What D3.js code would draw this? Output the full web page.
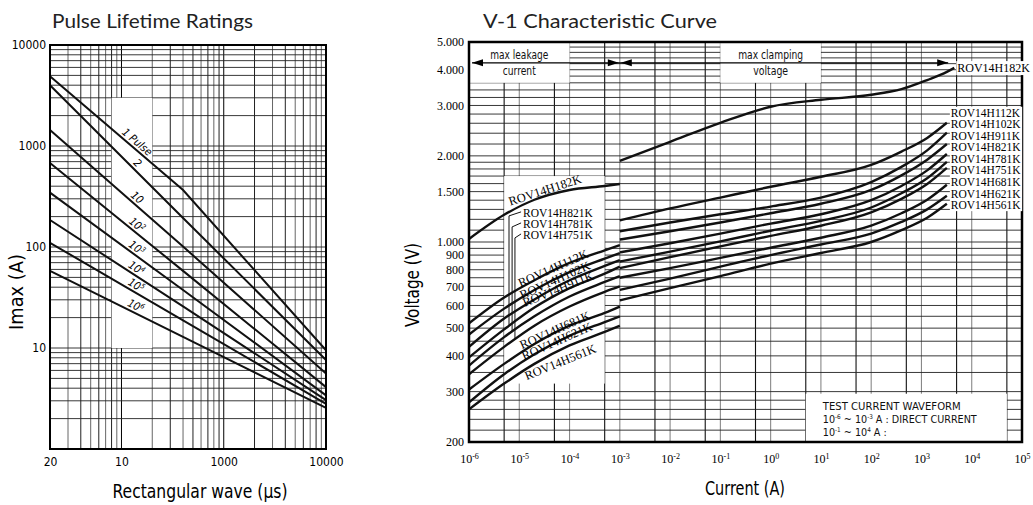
<!DOCTYPE html>
<html>
<head>
<meta charset="utf-8">
<script src="https://cdn.jsdelivr.net/npm/d3@7"></script>
<style>
  body { margin: 0; background: #fff; }
</style>
</head>
<body>
<svg id="chart" width="1033" height="505"></svg>
<script>
const NARROW = '"Liberation Sans Narrow","DejaVu Sans Condensed",Roboto,sans-serif';
const SERIF = '"Liberation Serif","DejaVu Serif",serif';
const TITLE = 'Lato,"Open Sans",sans-serif';

// ---------------- Pulse Lifetime Ratings (left) ----------------
const pulseWidths = [20, 400, 10000];          // rectangular wave, us
const pulse1   = [4900, 366, 9.5];
const pulse2   = [4000, 194, 7.6];
const pulse10  = [1440, 101, 5.6];
const pulse1e2 = [680, 58, 4.1];
const pulse1e3 = [345, 37.5, 3.4];
const pulse1e4 = [185, 25.8, 3.05];
const pulse1e5 = [110, 18.8, 2.8];
const pulse1e6 = [58, 12.9, 2.55];
const pulseLabels = [["1 Pulse", ""], ["2", ""], ["10", ""], ["10", "2"], ["10", "3"], ["10", "4"], ["10", "5"], ["10", "6"]];
const pulseTickX = [20, 100, 1000, 10000];
const pulseTickXLabels = ["20", "10", "1000", "10000"];
const pulseTickY = [10, 100, 1000, 10000];

// ---------------- V-I Characteristic Curve (right) ----------------
const currentLeak = [1e-6, 5e-6, 2e-5, 1e-4, 5e-4, 1e-3];
const currentClamp = [1e-3, 1e-2, 1e-1, 1, 10, 100, 400, 1300, 3200];
const currentClamp182 = [1e-3, 1e-2, 1e-1, 1, 10, 100, 400, 1300, 3200, 4500];
const rovNames = ["ROV14H112K", "ROV14H102K", "ROV14H911K", "ROV14H821K", "ROV14H781K",
                  "ROV14H751K", "ROV14H681K", "ROV14H621K", "ROV14H561K"];
const leak182 = [1025, 1245, 1405, 1520, 1570, 1595];
const leak112 = [520, 640, 735, 845, 935, 975];
const leak102 = [475, 585, 680, 785, 875, 915];
const leak911 = [430, 540, 630, 735, 825, 865];
const leak821 = [395, 495, 590, 690, 775, 820];
const leak781 = [370, 465, 550, 645, 725, 760];
const leak751 = [345, 430, 510, 595, 670, 700];
const leak681 = [305, 375, 440, 510, 565, 595];
const leak621 = [275, 345, 405, 470, 525, 550];
const leak561 = [260, 320, 375, 435, 485, 510];
const clamp182 = [1920, 2240, 2610, 2970, 3140, 3270, 3420, 3680, 3930, 4060];
const clamp112 = [1190, 1310, 1430, 1560, 1690, 1860, 2070, 2310, 2610];
const clamp102 = [1090, 1170, 1250, 1330, 1430, 1620, 1830, 2090, 2410];
const clamp911 = [1020, 1090, 1170, 1260, 1360, 1520, 1710, 1940, 2200];
const clamp821 = [920, 990, 1070, 1160, 1250, 1400, 1570, 1780, 2030];
const clamp781 = [855, 925, 1005, 1095, 1185, 1320, 1480, 1670, 1905];
const clamp751 = [810, 885, 965, 1050, 1140, 1270, 1415, 1595, 1815];
const clamp681 = [750, 810, 880, 955, 1035, 1140, 1260, 1405, 1585];
const clamp621 = [680, 745, 820, 900, 980, 1070, 1175, 1300, 1450];
const clamp561 = [625, 690, 760, 840, 915, 1000, 1100, 1215, 1360];
const voltTicks = [200, 300, 400, 500, 600, 700, 800, 900, 1000, 1500, 2000, 3000, 4000, 5000];
const voltTickLabels = ["200", "300", "400", "500", "600", "700", "800", "900", "1.000", "1.500", "2.000", "3.000", "4.000", "5.000"];
const currentExps = [-6, -5, -4, -3, -2, -1, 0, 1, 2, 3, 4, 5];

const leakSeries = [leak112, leak102, leak911, leak821, leak781, leak751, leak681, leak621, leak561];
const clampSeries = [clamp112, clamp102, clamp911, clamp821, clamp781, clamp751, clamp681, clamp621, clamp561];

// label anchors (current A, voltage V, rotation)
const rotLabels = [
  ["ROV14H182K", 3.25e-5, 1521, -18],
  ["ROV14H112K", 4.7e-5, 811, -24],
  ["ROV14H102K", 5.1e-5, 737, -24],
  ["ROV14H911K", 5.9e-5, 686, -22],
  ["ROV14H681K", 5.1e-5, 493, -24],
  ["ROV14H621K", 5.6e-5, 451, -24],
  ["ROV14H561K", 6.5e-5, 381, -22]
];
const leaderLabels = [["ROV14H821K", 1224, 6.25e-6, 3], ["ROV14H781K", 1120, 7.2e-6, 4], ["ROV14H751K", 1025, 8.2e-6, 5]];

function interpLog(xs, ys, x) {
  const lx = Math.log10(x);
  for (let i = 0; i < xs.length - 1; i++) {
    const a = Math.log10(xs[i]), b = Math.log10(xs[i + 1]);
    if (lx >= a && lx <= b) {
      const t = (lx - a) / (b - a);
      return Math.pow(10, Math.log10(ys[i]) + t * (Math.log10(ys[i + 1]) - Math.log10(ys[i])));
    }
  }
  return ys[ys.length - 1];
}
const isDecade = d => Math.abs(Math.log10(d) - Math.round(Math.log10(d))) < 1e-9;
// squeeze a text to the width it has in the scan
const fit = (sel, w) => sel.attr("textLength", w).attr("lengthAdjust", "spacingAndGlyphs");

const svg = d3.select("#chart");

// ================= left chart =================
const xL = d3.scaleLog().domain([20, 10000]).range([50, 326]);
const yL = d3.scaleLog().domain([1, 10000]).range([449, 45]);
const gL = svg.append("g");

gL.append("g").selectAll("line").data(xL.ticks()).join("line")
  .attr("x1", d => xL(d)).attr("x2", d => xL(d))
  .attr("y1", yL(1)).attr("y2", yL(10000))
  .attr("stroke", (d, i) => isDecade(d) ? "#000" : (i % 2 ? "#666" : "#222"))
  .attr("stroke-width", 1);
gL.append("g").selectAll("line").data(yL.ticks()).join("line")
  .attr("x1", xL(20)).attr("x2", xL(10000))
  .attr("y1", d => yL(d)).attr("y2", d => yL(d))
  .attr("stroke", "#222").attr("stroke-width", 0.9);

// white area behind the curve labels
gL.append("rect")
  .attr("x", xL(80)).attr("y", yL(3000))
  .attr("width", xL(200) - xL(80)).attr("height", yL(10) - yL(3000))
  .attr("fill", "#fff");

const pulseData = [pulse1, pulse2, pulse10, pulse1e2, pulse1e3, pulse1e4, pulse1e5, pulse1e6];
const lineL = d3.line().x(d => xL(d[0])).y(d => yL(d[1]));
gL.append("g").selectAll("path").data(pulseData).join("path")
  .attr("d", vals => lineL(pulseWidths.map((w, i) => [w, vals[i]])))
  .attr("fill", "none").attr("stroke", "#111").attr("stroke-width", 2);

pulseData.forEach((vals, k) => {
  const w = 129;
  const px = xL(w), py = yL(interpLog(pulseWidths, vals, w));
  const px2 = xL(w * 1.3), py2 = yL(interpLog(pulseWidths, vals, w * 1.3));
  const ang = Math.atan2(py2 - py, px2 - px) * 180 / Math.PI;
  const t = gL.append("text")
    .attr("transform", `translate(${px},${py}) rotate(${ang})`)
    .attr("dy", -3).attr("text-anchor", "middle")
    .attr("font-family", NARROW).attr("font-style", "italic").attr("font-size", 11)
    .text(pulseLabels[k][0]);
  if (pulseLabels[k][1]) t.append("tspan").attr("dy", -4).attr("font-size", 7).text(pulseLabels[k][1]);
});

gL.append("rect")
  .attr("x", xL(20)).attr("y", yL(10000))
  .attr("width", xL(10000) - xL(20)).attr("height", yL(1) - yL(10000))
  .attr("fill", "none").attr("stroke", "#000").attr("stroke-width", 2);

gL.append("g").attr("transform", `translate(0,${yL(1)})`)
  .call(d3.axisBottom(xL).tickValues(pulseTickX).tickFormat((d, i) => pulseTickXLabels[i]).tickSize(0).tickPadding(8))
  .call(g => g.select(".domain").remove())
  .attr("font-family", NARROW).attr("font-size", 12);
gL.append("g").attr("transform", `translate(${xL(20) - 4},0)`)
  .call(d3.axisLeft(yL).tickValues(pulseTickY).tickFormat(d3.format("d")).tickSize(0).tickPadding(0))
  .call(g => g.select(".domain").remove())
  .attr("font-family", NARROW).attr("font-size", 12);

fit(gL.append("text").attr("x", 52).attr("y", 28)
  .attr("font-family", TITLE).attr("font-size", 20).attr("fill", "#222")
  .text("Pulse Lifetime Ratings"), 201);
fit(gL.append("text").attr("transform", "translate(23,292) rotate(-90)")
  .attr("text-anchor", "middle").attr("font-family", NARROW).attr("font-size", 20)
  .text("Imax (A)"), 76);
fit(gL.append("text").attr("x", 200).attr("y", 498)
  .attr("text-anchor", "middle").attr("font-family", NARROW).attr("font-size", 19)
  .text("Rectangular wave (\u00b5s)"), 175);

// ================= right chart =================
const xR = d3.scaleLog().domain([1e-6, 1e5]).range([469, 1022]);
const yR = d3.scaleLog().domain([200, 5000]).range([442, 42]);
const gR = svg.append("g");

const vGrid = [];
currentExps.forEach(e => { vGrid.push(Math.pow(10, e)); if (e < 5) vGrid.push(5 * Math.pow(10, e)); });
gR.append("g").selectAll("line").data(vGrid).join("line")
  .attr("x1", d => xR(d)).attr("x2", d => xR(d))
  .attr("y1", yR(200)).attr("y2", yR(5000))
  .attr("stroke", d => isDecade(d) ? "#888" : "#111").attr("stroke-width", 1.1);
const hGrid = [].concat(d3.range(200, 300, 20), d3.range(300, 1000, 50), d3.range(1000, 2000, 100), d3.range(2000, 5001, 200));
gR.append("g").selectAll("line").data(hGrid).join("line")
  .attr("x1", xR(1e-6)).attr("x2", xR(1e5))
  .attr("y1", d => yR(d)).attr("y2", d => yR(d))
  .attr("stroke", "#222").attr("stroke-width", 0.9);

// white boxes: [x0, x1, v0, v1]
const whiteBoxes = [[1e-6, 1e-4, 3600, 5000], [0.1, 10, 3600, 5000], [5e-6, 5e-4, 320, 1700], [5, 5e4, 200, 295]];
gR.append("g").selectAll("rect").data(whiteBoxes).join("rect")
  .attr("x", d => xR(d[0])).attr("y", d => yR(d[3]))
  .attr("width", d => xR(d[1]) - xR(d[0])).attr("height", d => yR(d[2]) - yR(d[3]))
  .attr("fill", "#fff");

const lineR = d3.line().x(d => xR(d[0])).y(d => yR(d[1])).curve(d3.curveMonotoneX);
const curveG = gR.append("g").attr("fill", "none").attr("stroke", "#111").attr("stroke-width", 2.4);
curveG.append("path").attr("d", lineR(currentLeak.map((c, i) => [c, leak182[i]])));
curveG.append("path").attr("d", lineR(currentClamp182.map((c, i) => [c, clamp182[i]])));
leakSeries.forEach(s => curveG.append("path").attr("d", lineR(currentLeak.map((c, i) => [c, s[i]]))));
clampSeries.forEach(s => curveG.append("path").attr("d", lineR(currentClamp.map((c, i) => [c, s[i]]))));

gR.append("rect")
  .attr("x", xR(1e-6)).attr("y", yR(5000))
  .attr("width", xR(1e5) - xR(1e-6)).attr("height", yR(200) - yR(5000))
  .attr("fill", "none").attr("stroke", "#000").attr("stroke-width", 2.5);

// max leakage / max clamping arrows
const arrowVolt = 4230;
const ay = yR(arrowVolt);
function arrowHead(tip, dir) {
  gR.append("path").attr("d", `M${tip},${ay}L${tip - dir * 11},${ay - 3.5}L${tip - dir * 11},${ay + 3.5}Z`).attr("fill", "#000");
}
gR.append("line").attr("x1", xR(1e-6) + 3).attr("x2", xR(3400)).attr("y1", ay).attr("y2", ay)
  .attr("stroke", "#000").attr("stroke-width", 1.3);
arrowHead(xR(1e-6) + 3, -1);
arrowHead(xR(1e-3) - 1, 1);
arrowHead(xR(1e-3) + 1, -1);
arrowHead(xR(3400), 1);

const boxText = [["max leakage", 1e-5, 59, 58], ["current", 1e-5, 75, 33], ["max clamping", 1, 59, 65], ["voltage", 1, 75, 35]];
boxText.forEach(b => fit(gR.append("text").attr("x", xR(b[1])).attr("y", b[2])
  .attr("text-anchor", "middle").attr("font-family", NARROW).attr("font-size", 13)
  .attr("fill", "#111").text(b[0]), b[3]));

// rotated curve labels
rotLabels.forEach(l => gR.append("text")
  .attr("transform", `translate(${xR(l[1])},${yR(l[2])}) rotate(${l[3]})`)
  .attr("text-anchor", "middle").attr("dy", "0.35em")
  .attr("font-family", SERIF).attr("font-size", 12.5).text(l[0]));

// labels with leader lines
leaderLabels.forEach(l => {
  const ly = yR(l[1]);
  const tx = xR(1.19e-5);
  gR.append("text").attr("x", tx).attr("y", ly)
    .attr("font-family", SERIF).attr("font-size", 11.5).text(l[0]);
  const lx = xR(l[2]);
  const bottom = yR(interpLog(currentLeak, leakSeries[l[3]], l[2]));
  gR.append("path").attr("d", `M${lx},${bottom}L${lx},${ly - 1}L${tx - 2},${ly - 5}`)
    .attr("fill", "none").attr("stroke", "#111").attr("stroke-width", 1);
});

// right label column
const colG = gR.append("g");
const colBg = colG.append("rect").attr("fill", "#fff");
const colX = xR(3200) + 4;
rovNames.forEach((n, i) => colG.append("text")
  .attr("x", colX).attr("y", 112.7 + i * 11.55).attr("dy", "0.35em")
  .attr("font-family", SERIF).attr("font-size", 11.5).text(n));
let bb = colG.node().getBBox();
colBg.attr("x", bb.x - 1).attr("y", bb.y).attr("width", bb.width + 2).attr("height", bb.height);

const topG = gR.append("g");
const topBg = topG.append("rect").attr("fill", "#fff");
topG.append("text").attr("x", xR(4500) + 3).attr("y", yR(4060)).attr("dy", "0.35em")
  .attr("font-family", SERIF).attr("font-size", 12).text("ROV14H182K");
bb = topG.node().getBBox();
topBg.attr("x", bb.x - 1).attr("y", bb.y).attr("width", bb.width + 2).attr("height", bb.height);

// test current waveform note
const noteX = xR(5) + 17;
const note = gR.append("g").attr("font-family", NARROW).attr("font-size", 11).attr("fill", "#111");
fit(note.append("text").attr("x", noteX).attr("y", 410).text("TEST CURRENT WAVEFORM"), 138);
const n2 = note.append("text").attr("x", noteX).attr("y", 423);
n2.append("tspan").text("10");
n2.append("tspan").attr("dy", -4).attr("font-size", 6.5).text("-6");
n2.append("tspan").attr("dy", 4).text(" ~ 10");
n2.append("tspan").attr("dy", -4).attr("font-size", 6.5).text("-3");
n2.append("tspan").attr("dy", 4).text(" A : DIRECT CURRENT");
fit(n2, 154);
const n3 = note.append("text").attr("x", noteX).attr("y", 436);
n3.append("tspan").text("10");
n3.append("tspan").attr("dy", -4).attr("font-size", 6.5).text("-1");
n3.append("tspan").attr("dy", 4).text(" ~ 10");
n3.append("tspan").attr("dy", -4).attr("font-size", 6.5).text("4");
n3.append("tspan").attr("dy", 4).text(" A :");
fit(n3, 64);

// axes
const xAxisR = gR.append("g").attr("transform", `translate(0,${yR(200)})`)
  .call(d3.axisBottom(xR).tickValues(currentExps.map(e => Math.pow(10, e))).tickSize(0).tickPadding(12))
  .call(g => g.select(".domain").remove())
  .attr("font-family", SERIF).attr("font-size", 12);
xAxisR.selectAll("text").each(function (d) {
  const t = d3.select(this);
  t.text("10");
  t.append("tspan").attr("dy", "-0.5em").attr("font-size", 8).text(Math.round(Math.log10(d)));
});
gR.append("g").attr("transform", `translate(${xR(1e-6) - 5},0)`)
  .call(d3.axisLeft(yR).tickValues(voltTicks).tickFormat((d, i) => voltTickLabels[i]).tickSize(0).tickPadding(0))
  .call(g => g.select(".domain").remove())
  .attr("font-family", SERIF).attr("font-size", 12);

fit(gR.append("text").attr("x", 483).attr("y", 28)
  .attr("font-family", TITLE).attr("font-size", 20).attr("fill", "#222")
  .text("V-1 Characteristic Curve"), 234);
fit(gR.append("text").attr("transform", "translate(419,285) rotate(-90)")
  .attr("text-anchor", "middle").attr("font-family", NARROW).attr("font-size", 20)
  .text("Voltage (V)"), 84);
fit(gR.append("text").attr("x", 745).attr("y", 495)
  .attr("text-anchor", "middle").attr("font-family", NARROW).attr("font-size", 19)
  .text("Current (A)"), 80);
</script>
</body>
</html>
